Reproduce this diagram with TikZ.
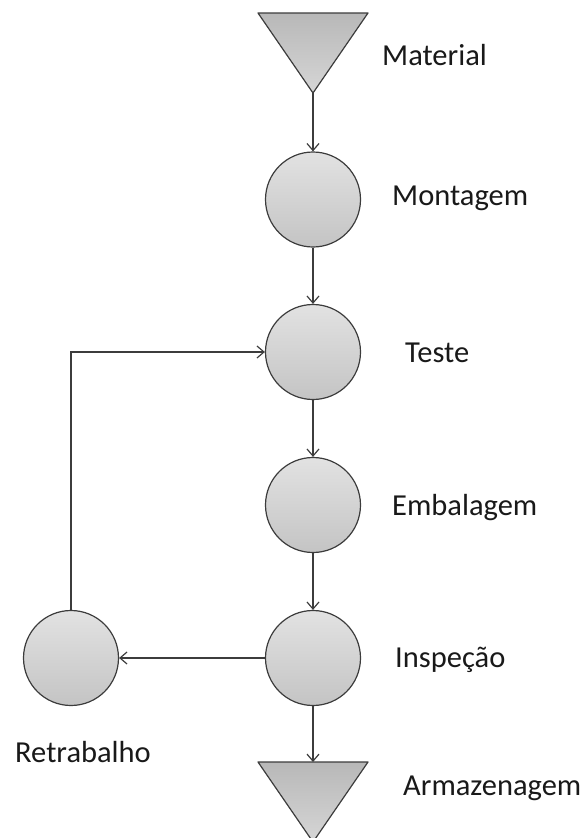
\documentclass[tikz,border=0pt]{standalone}
\usepackage{fontspec}
\setmainfont{Carlito}
\usetikzlibrary{arrows.meta}
\definecolor{edge}{HTML}{3C3C3C}
\definecolor{balltop}{HTML}{E2E2E2}
\definecolor{ballbot}{HTML}{C4C4C4}
\definecolor{tritop}{HTML}{B8B8B8}
\definecolor{tribot}{HTML}{D6D6D6}
\begin{document}
\begin{tikzpicture}[x=1pt,y=-1pt,
  stage/.style={circle,draw=edge,line width=1.2pt,minimum size=95pt,inner sep=0pt,
    top color=balltop,bottom color=ballbot},
  stock/.style={draw=edge,line width=1.2pt,line join=round,top color=tritop,bottom color=tribot},
  lbl/.style={anchor=base west,inner sep=0pt,font=\fontsize{30.5}{36}\selectfont,text=black!90},
  arr/.style={draw=edge,line width=1.2pt,-{Straight Barb[length=7pt,width=12pt,line width=1.2pt]}}]
  \useasboundingbox (0,0) rectangle (588,838);

  % inventory triangles (top and bottom)
  \coordinate (matL) at (258,13);
  \coordinate (matR) at (368,13);
  \coordinate (matapex) at (313,93);
  \path[stock] (matL) -- (matR) -- (matapex) -- cycle;

  \coordinate (armL) at (258,762);
  \coordinate (armR) at (368,762);
  \coordinate (armtop) at (313,762);
  \coordinate (armapex) at (313,842);
  \path[stock] (armL) -- (armR) -- (armapex) -- cycle;

  % process steps
  \node[stage] (mont)  at (313,199.5) {};
  \node[stage] (teste) at (313,352) {};
  \node[stage] (emb)   at (313,505) {};
  \node[stage] (insp)  at (313,658) {};
  \node[stage] (retr)  at (71,658) {};

  % labels
  \node[lbl] (tmat)  at (382,65)  {Material};
  \node[lbl] (tmont) at (392,205) {Montagem};
  \node[lbl] (ttest) at (405,362) {Teste};
  \node[lbl] (temb)  at (392,515) {Embalagem};
  \node[lbl] (tinsp) at (395,667) {Inspeção};
  \node[lbl] (tretr) at (15,762)  {Retrabalho};
  \node[lbl] (tarm)  at (403,795) {Armazenagem};

  % flow
  \draw[arr] (matapex) -- (mont);
  \draw[arr] (mont) -- (teste);
  \draw[arr] (teste) -- (emb);
  \draw[arr] (emb) -- (insp);
  \draw[arr] (insp) -- (armtop);
  \draw[arr] (insp) -- (retr);
  \draw[arr] (retr.north) |- (teste.west);
\end{tikzpicture}
\end{document}
